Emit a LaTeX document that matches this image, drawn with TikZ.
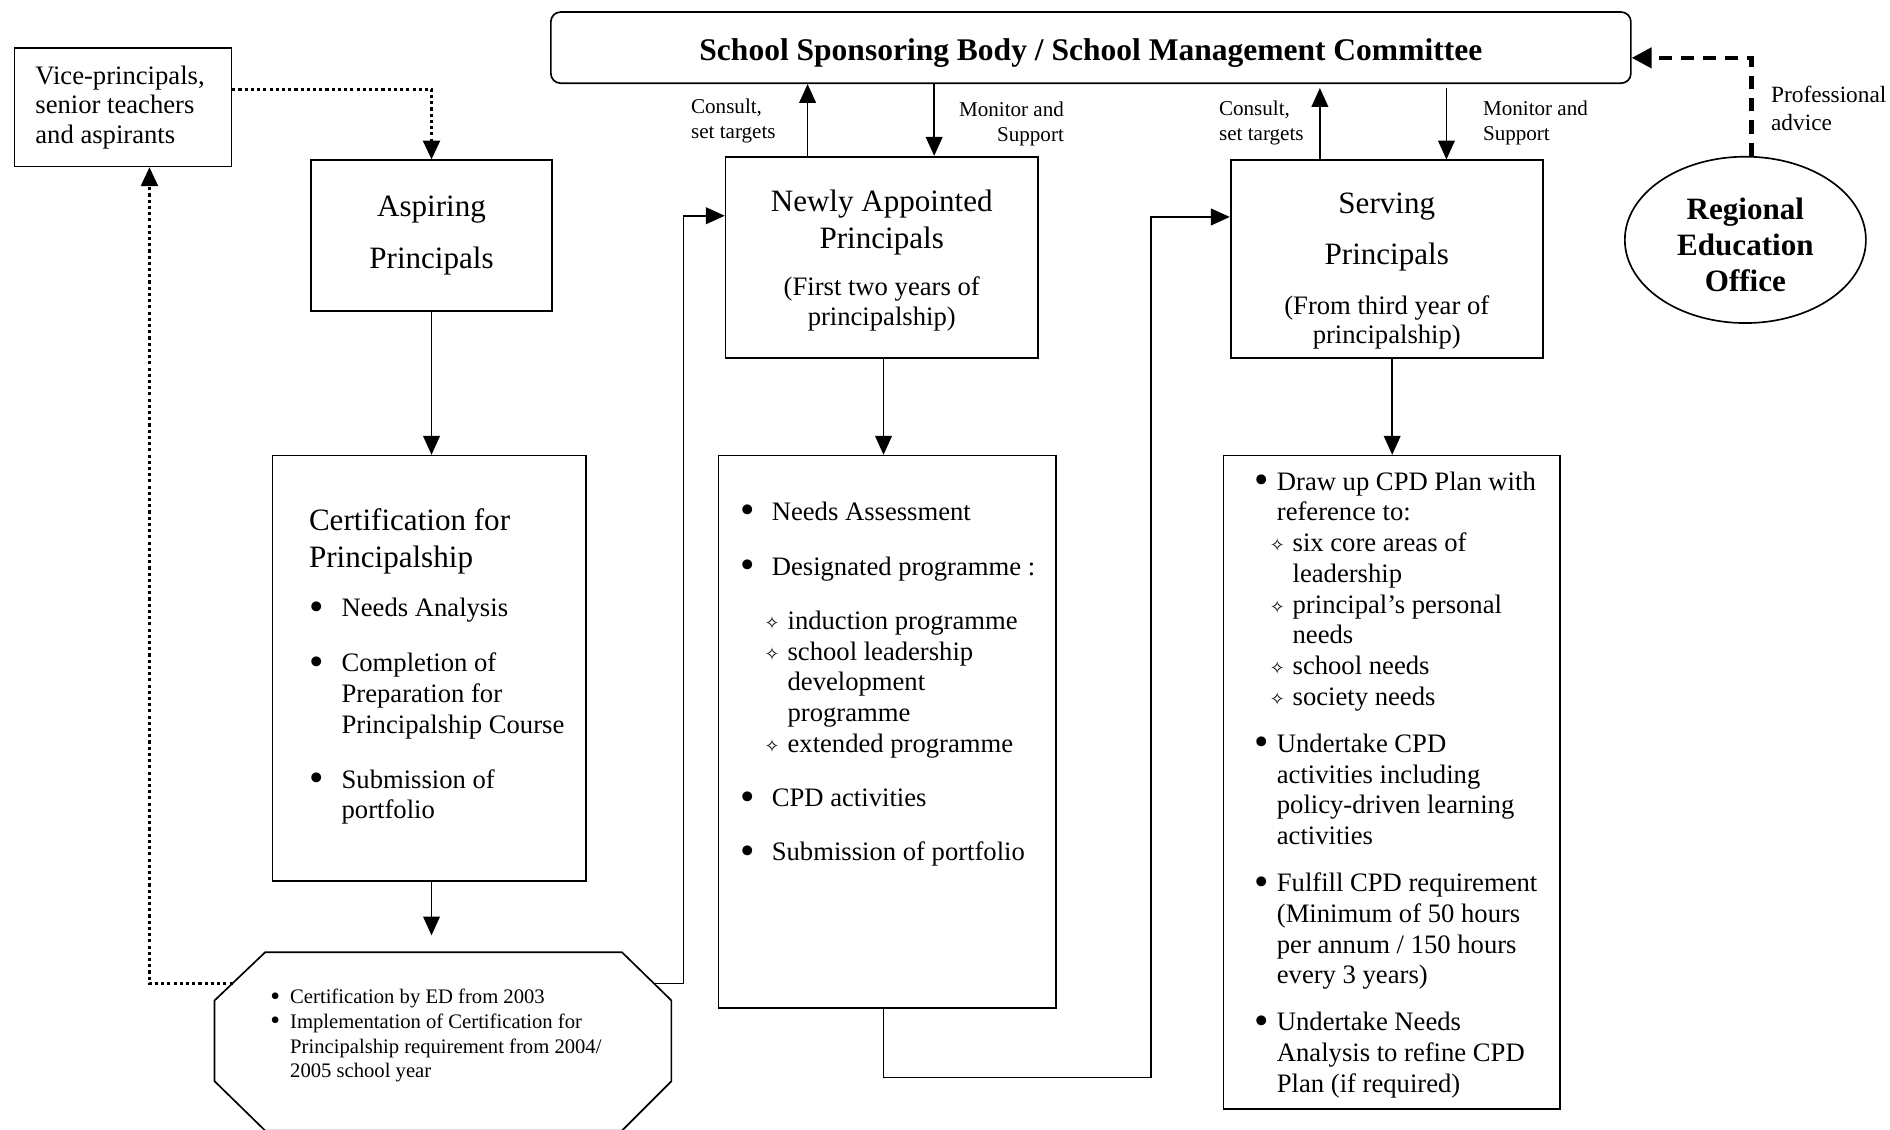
\documentclass[tikz,border=0pt]{standalone}
\usepackage{fontspec}
\usepackage{graphicx}
\setmainfont{Liberation Serif}
\newfontfamily\symfont{DejaVu Sans}
\usetikzlibrary{arrows.meta,shapes.geometric}

\newdimen\upx \upx=0.543pt
\newcommand\bulitem[1]{\makebox[#1][l]{\smash{\raisebox{-0.13em}{\scalebox{1.55}{\textbullet}}}}}
\newcommand\smallbul[1]{\makebox[#1][l]{\smash{\raisebox{-0.08em}{\scalebox{1.35}{\textbullet}}}}}
\newcommand\diaitem[1]{\makebox[#1][l]{\symfont\fontsize{8}{8}\selectfont ✧}}

\tikzset{
  box/.style={draw, line width=0.75pt, inner sep=0pt},
  arr/.style={-{Triangle[length=8.5pt,width=7.5pt]}, line width=0.75pt},
  dotarr/.style={arr, line width=1.5pt, dash pattern=on 1.4pt off 1.4pt},
  dasharr/.style={-{Triangle[length=9pt,width=9pt]}, line width=2pt, dash pattern=on 6pt off 4pt},
  body/.style={inner sep=0pt, anchor=north west, align=left, font=\fontsize{12}{13.85}\selectfont},
  head/.style={inner sep=0pt, align=center, font=\fontsize{14}{16.1}\selectfont},
  small/.style={inner sep=0pt, anchor=north west, align=left, font=\fontsize{9.5}{11}\selectfont},
}

\begin{document}
\begin{tikzpicture}[x=0.543pt, y=-0.543pt]
\useasboundingbox (0,0) rectangle (1568,937);

% columns and rows for the connectors
\coordinate (c0) at (124,0);
\coordinate (c1) at (670,0);
\coordinate (c2) at (567,0);
\coordinate (c4) at (733,0);
\coordinate (c5) at (955,0);
\coordinate (c6) at (1155,0);
\coordinate (c7) at (1453,0);
\coordinate (c8) at (1095,0);
\coordinate (c9) at (1200,0);
\coordinate (c10) at (775,0);
\coordinate (r1) at (0,74);
\coordinate (r2) at (0,179);
\coordinate (r3) at (0,894);
\coordinate (r4) at (0,180);
\coordinate (r5) at (0,48);
\coordinate (r6) at (0,73);

% boxes
\node[box, rounded corners=8\upx, minimum width=896\upx, minimum height=59\upx] (sbc) at (905,39.5) {};
\node[inner sep=0pt, anchor=base, font=\bfseries\fontsize{14.2}{16}\selectfont] (sbctxt) at (905,50)
      {School Sponsoring Body / School Management Committee};
\node[box, minimum width=180\upx, minimum height=98\upx] (vice) at (102,89) {};
\node[box, head, minimum width=200\upx, minimum height=125\upx] (asp) at (358,195.5)
      {Aspiring\\[7.2pt]Principals};
\node[box, minimum width=260\upx, minimum height=353\upx] (cert) at (356,554.5) {};
\node[box, minimum width=259\upx, minimum height=167\upx] (newly) at (731.5,213.5) {};
\node[box, minimum width=280\upx, minimum height=458\upx] (mid) at (736,607) {};
\node[box, minimum width=259\upx, minimum height=164\upx] (serv) at (1150.5,215) {};
\node[box, minimum width=279\upx, minimum height=542\upx] (cpd) at (1154.5,649) {};
\node[box, ellipse, minimum width=200\upx, minimum height=138\upx] (reo) at (1448,199) {};
\node[inner sep=0pt, align=center, font=\bfseries\fontsize{14}{16.3}\selectfont] (reotxt) at (1448,203)
      {Regional\\Education\\Office};

% octagon
\draw[line width=0.75pt] (220,790) -- (516,790) -- (557,830) -- (557,897)
  -- (516,938) -- (220,938) -- (178,897) -- (178,830) -- cycle;
\coordinate (octN) at (358,790);
\coordinate (octL) at (193,816);
\coordinate (octR) at (543,816);

% texts
\node[body, font=\fontsize{12}{13.3}\selectfont] (vicetxt) at (29,54)
  {Vice-principals,\\senior teachers\\and aspirants};
\node[head, anchor=north west, align=left, font=\fontsize{14}{16.3}\selectfont] (certhead) at (256,422)
  {Certification for\\Principalship};
\node[body] (certlist) at (256,496)
  {\bulitem{14.7pt}Needs Analysis\\[10.9pt]
   \bulitem{14.7pt}Completion of\\
   \hspace*{14.7pt}Preparation for\\
   \hspace*{14.7pt}Principalship Course\\[10.9pt]
   \bulitem{14.7pt}Submission of\\
   \hspace*{14.7pt}portfolio};
\node[head, anchor=north, font=\fontsize{14}{16.8}\selectfont] (newlyhead) at (731.5,157)
  {Newly Appointed\\Principals};
\node[body, anchor=north, align=center, font=\fontsize{12}{13.6}\selectfont] (newlysub) at (731.5,229)
  {(First two years of\\principalship)};
\node[head, anchor=north] (servhead) at (1150.5,160)
  {Serving\\[6.7pt]Principals};
\node[body, anchor=north, align=center, font=\fontsize{12}{13}\selectfont] (servsub) at (1150.5,245)
  {(From third year of\\principalship)};
\node[body] (midlist) at (614,416)
  {\bulitem{14.1pt}Needs Assessment\\[10.8pt]
   \bulitem{14.1pt}Designated programme :\\[10.6pt]
   \hspace*{10.9pt}\diaitem{10.3pt}induction programme\\
   \hspace*{10.9pt}\diaitem{10.3pt}school leadership\\
   \hspace*{21.2pt}development\\
   \hspace*{21.2pt}programme\\
   \hspace*{10.9pt}\diaitem{10.3pt}extended programme\\[10.6pt]
   \bulitem{14.1pt}CPD activities\\[10.6pt]
   \bulitem{14.1pt}Submission of portfolio};
\node[body] (cpdlist) at (1040,391)
  {\bulitem{10.3pt}Draw up CPD Plan with\\
   \hspace*{10.3pt}reference to:\\
   \hspace*{7.1pt}\diaitem{10.3pt}six core areas of\\
   \hspace*{17.4pt}leadership\\
   \hspace*{7.1pt}\diaitem{10.3pt}principal’s personal\\
   \hspace*{17.4pt}needs\\
   \hspace*{7.1pt}\diaitem{10.3pt}school needs\\
   \hspace*{7.1pt}\diaitem{10.3pt}society needs\\[7.3pt]
   \bulitem{10.3pt}Undertake CPD\\
   \hspace*{10.3pt}activities including\\
   \hspace*{10.3pt}policy-driven learning\\
   \hspace*{10.3pt}activities\\[7.3pt]
   \bulitem{10.3pt}Fulfill CPD requirement\\
   \hspace*{10.3pt}(Minimum of 50 hours\\
   \hspace*{10.3pt}per annum / 150 hours\\
   \hspace*{10.3pt}every 3 years)\\[7.3pt]
   \bulitem{10.3pt}Undertake Needs\\
   \hspace*{10.3pt}Analysis to refine CPD\\
   \hspace*{10.3pt}Plan (if required)};
\node[small, font=\fontsize{9.3}{11.2}\selectfont] (octtxt) at (224,820)
  {\smallbul{8.9pt}Certification by ED from 2003\\
   \smallbul{8.9pt}Implementation of Certification for\\
   \hspace*{8.9pt}Principalship requirement from 2004/\\
   \hspace*{8.9pt}2005 school year};

% labels on the arrows
\node[small] (cons1) at (573,82) {Consult,\\set targets};
\node[small, anchor=north east, align=right, font=\fontsize{9.5}{11.4}\selectfont] (mon1) at (883,84) {Monitor and\\Support};
\node[small, font=\fontsize{9.5}{11.4}\selectfont] (cons2) at (1011,83) {Consult,\\set targets};
\node[small, font=\fontsize{9.5}{11.4}\selectfont] (mon2) at (1230,83) {Monitor and\\Support};
\node[small, font=\fontsize{10.5}{12.5}\selectfont] (prof) at (1469,71) {Professional\\advice};

% connectors
\draw[dotarr] (vice.east |- r1) -| (asp.north);
\draw[arr] (asp.south) -- (asp.south |- cert.north);
\draw[arr] (asp.south |- cert.south) -- ([yshift=14\upx]octN);
\draw[dotarr] (octL) -| (vice.south -| c0);
\draw[arr] (octR) -| (c2 |- r2) -- (newly.west |- r2);
\draw[arr] (newly.north -| c1) -- (sbc.south -| c1);
\draw[arr] (sbc.south -| c10) -- (newly.north -| c10);
\draw[arr] (newly.south -| c4) -- (mid.north -| c4);
\draw[arr] (mid.south -| c4) |- (c5 |- r3) |- (serv.west |- r4);
\draw[arr] (serv.north -| c8) -- (r6 -| c8);
\draw[arr] (r6 -| c9) -- (serv.north -| c9);
\draw[arr] (serv.south -| c6) -- (cpd.north -| c6);
\draw[dasharr] (reo.north -| c7) |- (sbc.east |- r5);
\end{tikzpicture}
\end{document}
